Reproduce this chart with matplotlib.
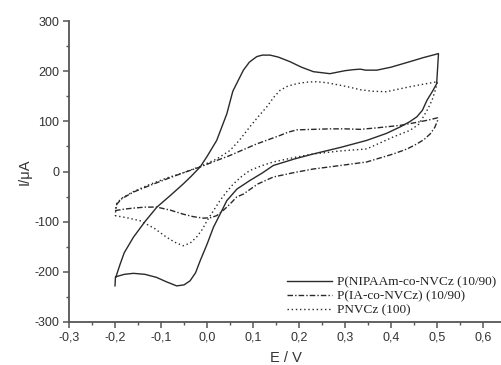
import numpy as np
import matplotlib.pyplot as plt
from matplotlib.ticker import MultipleLocator, FuncFormatter

# P(NIPAAm-co-NVCz) (10/90) - solid
e_nip = [-0.200, -0.199, -0.180, -0.160, -0.135, -0.110, -0.088, -0.066, -0.050, -0.037, -0.025,
         -0.015, 0.000, 0.014, 0.030, 0.043, 0.065, 0.093, 0.120, 0.144, 0.190, 0.231, 0.290,
         0.347, 0.390, 0.420, 0.440, 0.456, 0.468, 0.478, 0.490, 0.499, 0.503,
         0.470, 0.441, 0.400, 0.369, 0.345, 0.333, 0.318, 0.300, 0.267, 0.231, 0.205, 0.180,
         0.155, 0.137, 0.120, 0.108, 0.092, 0.079, 0.068, 0.056, 0.043, 0.021, 0.000, -0.015,
         -0.035, -0.052, -0.080, -0.109, -0.135, -0.160, -0.180, -0.189, -0.198]
i_nip = [-228, -210, -205, -203, -205, -211, -220, -228, -226, -218, -202,
         -178, -145, -111, -82, -58, -35, -18, -3, 12, 25, 35, 48,
         62, 76, 89, 99, 109, 122, 142, 160, 175, 235,
         227, 219, 208, 202, 202, 204, 203, 201, 195, 199, 208, 219,
         228, 232, 232, 229, 218, 202, 182, 160, 115, 62, 30, 9,
         -10, -25, -48, -71, -100, -131, -162, -185, -210]

# P(IA-co-NVCz) (10/90) - dash-dot
e_ia = [-0.200, -0.180, -0.160, -0.135, -0.109, -0.080, -0.052, -0.030, -0.008, 0.008, 0.021,
        0.032, 0.043, 0.055, 0.064, 0.079, 0.110, 0.144, 0.190, 0.231, 0.290, 0.347, 0.405,
        0.435, 0.456, 0.472, 0.485, 0.495, 0.501, 0.501,
        0.478, 0.450, 0.420, 0.369, 0.333, 0.300, 0.267, 0.230, 0.195, 0.175, 0.159, 0.135,
        0.108, 0.080, 0.050, 0.021, -0.015, -0.050, -0.088, -0.125, -0.160, -0.185, -0.196, -0.200]
i_ia = [-78, -75, -73, -71, -71, -77, -85, -90, -93, -92, -88,
        -80, -71, -60, -51, -45, -25, -11, -2, 5, 12, 19, 35,
        45, 55, 64, 75, 88, 102, 107,
        102, 97, 92, 87, 84, 85, 85, 84, 83, 78, 72, 64,
        55, 44, 32, 22, 9, -2, -15, -28, -41, -54, -65, -78]

# PNVCz (100) - dotted
e_pn = [-0.200, -0.175, -0.146, -0.115, -0.088, -0.070, -0.052, -0.037, -0.023, -0.010, 0.000,
        0.014, 0.028, 0.043, 0.057, 0.075, 0.093, 0.120, 0.144, 0.190, 0.231, 0.290, 0.347,
        0.405, 0.441, 0.460, 0.470, 0.480, 0.489, 0.496, 0.501,
        0.470, 0.441, 0.415, 0.390, 0.360, 0.333, 0.310, 0.289, 0.260, 0.238, 0.215, 0.195,
        0.175, 0.159, 0.145, 0.130, 0.110, 0.093, 0.070, 0.050, 0.021, -0.015, -0.050, -0.088,
        -0.125, -0.160, -0.185, -0.196, -0.200]
i_pn = [-88, -92, -98, -113, -131, -141, -148, -143, -131, -115, -98,
        -78, -58, -40, -25, -10, 2, 12, 19, 28, 35, 41, 45,
        69, 82, 94, 109, 125, 142, 162, 179,
        174, 169, 164, 159, 160, 163, 168, 172, 177, 179, 178, 175,
        170, 162, 148, 129, 108, 89, 62, 42, 25, 10, -2, -13,
        -26, -40, -53, -63, -88]

labels = ['P(NIPAAm-co-NVCz (10/90)', 'P(IA-co-NVCz) (10/90)', 'PNVCz (100)']

fig = plt.figure(figsize=(5.02, 3.65), dpi=100)
ax = fig.add_axes([69/502, 1 - 322/365, 1 - 69/502, (322 - 21)/365])

c = '#2a2a2a'
ax.plot(e_nip, i_nip, color=c, lw=1.0, ls='-', label=labels[0])
ax.plot(e_ia, i_ia, color=c, lw=1.0, ls=(0, (4, 1.5, 1, 1.5)), label=labels[1])
ax.plot(e_pn, i_pn, color=c, lw=1.0, ls=(0, (1, 2)), label=labels[2])

ax.set_xlim(-0.3, 0.641)
ax.set_ylim(-300, 300)
for s in ['top', 'right']:
    ax.spines[s].set_visible(False)
for s in ['left', 'bottom']:
    ax.spines[s].set_color('#555555')
    ax.spines[s].set_linewidth(1.3)

ax.xaxis.set_major_locator(MultipleLocator(0.1))
ax.xaxis.set_minor_locator(MultipleLocator(0.05))
ax.yaxis.set_major_locator(MultipleLocator(100))
ax.yaxis.set_minor_locator(MultipleLocator(50))
ax.xaxis.set_major_formatter(FuncFormatter(lambda v, p: ('%.1f' % v).replace('.', ',').replace('-0,0', '0,0')))
ax.yaxis.set_major_formatter(FuncFormatter(lambda v, p: '%d' % v))
ax.tick_params(which='major', direction='out', length=4, width=1.1, color='#555555',
               labelsize=9, pad=3)
ax.tick_params(which='minor', direction='out', length=2.5, width=1.0, color='#555555')
for t in ax.get_xticklabels() + ax.get_yticklabels():
    t.set_fontfamily('Liberation Sans')
    t.set_color('#333333')

ax.set_xlabel('E / V', fontfamily='Liberation Sans', fontsize=10.5, color='#333333', labelpad=5)
ax.set_ylabel('I/\u03bcA', fontfamily='Liberation Sans', fontsize=10.5, color='#333333', labelpad=2)

leg = ax.legend(loc='lower right', bbox_to_anchor=(1.0, 0.0), frameon=False,
                prop={'family': 'Liberation Serif', 'size': 9.5},
                handlelength=3.4, handletextpad=0.4, labelspacing=0.15, borderaxespad=0.0)
for t in leg.get_texts():
    t.set_color('#222222')

fig.savefig('out.png', dpi=100)
